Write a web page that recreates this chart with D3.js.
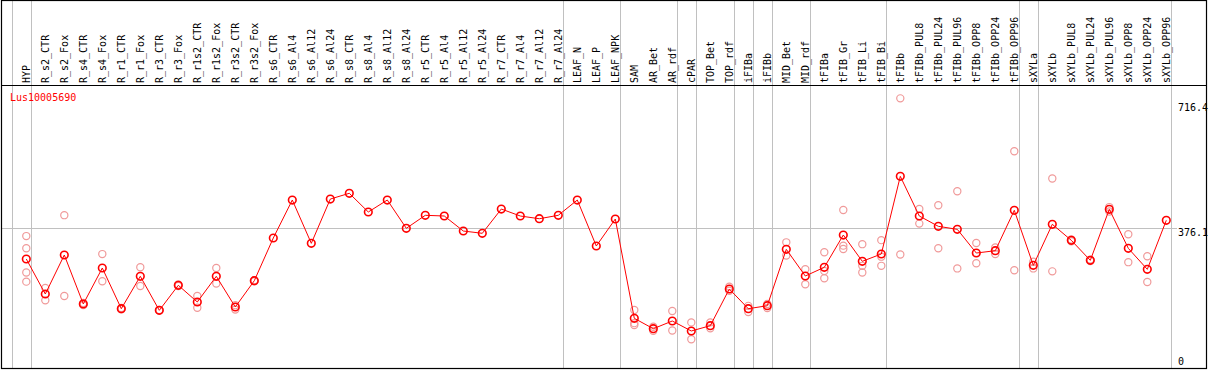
<!DOCTYPE html>
<html><head><meta charset="utf-8">
<script src="https://cdn.jsdelivr.net/npm/d3@7"></script>
<style>
html,body{margin:0;padding:0;background:#fff;}
svg text{font-family:"DejaVu Sans Mono","Liberation Mono",monospace;font-size:10px;}
</style></head>
<body><svg id="c" width="1209" height="370"></svg>
<script>
const categories = ["HYP","R_s2_CTR","R_s2_Fox","R_s4_CTR","R_s4_Fox","R_r1_CTR","R_r1_Fox","R_r3_CTR","R_r3_Fox","R_r1s2_CTR","R_r1s2_Fox","R_r3s2_CTR","R_r3s2_Fox","R_s6_CTR","R_s6_Al4","R_s6_Al12","R_s6_Al24","R_s8_CTR","R_s8_Al4","R_s8_Al12","R_s8_Al24","R_r5_CTR","R_r5_Al4","R_r5_Al12","R_r5_Al24","R_r7_CTR","R_r7_Al4","R_r7_Al12","R_r7_Al24","LEAF_N","LEAF_P","LEAF_NPK","SAM","AR_Bet","AR_rdf","cPAR","TOP_Bet","TOP_rdf","iFIBa","iFIBb","MID_Bet","MID_rdf","tFIBa","tFIB_Gr","tFIB_Li","tFIB_Bi","tFIBb","tFIBb_PUL8","tFIBb_PUL24","tFIBb_PUL96","tFIBb_OPP8","tFIBb_OPP24","tFIBb_OPP96","sXYLa","sXYLb","sXYLb_PUL8","sXYLb_PUL24","sXYLb_PUL96","sXYLb_OPP8","sXYLb_OPP24","sXYLb_OPP96"];

const means = [291.6,196.3,302.5,169.1,267.1,156.3,244.5,151.9,220.0,174.5,244.5,160.9,232.5,348.8,452.2,334.3,454.9,470.5,419.6,452.2,375.2,410.6,408.7,367.8,361.6,427.7,408.7,401.3,410.6,452.2,327.0,400.5,130.1,101.8,122.8,95.6,110.0,209.9,156.3,164.4,318.0,245.3,269.0,356.9,285.3,305.2,516.7,408.7,380.6,372.4,307.9,314.2,424.2,274.4,386.1,342.5,288.0,426.9,320.7,263.5,397.0];

const replicates = [[354,321,255,230],[213,179],[411,191],[172,166],[305,231],[158,155],[269,218],[153,151],[222,218],[191,159],[267,225],[166,154],[234,231],
[],[],[],[],[],[],[],[],[],[],[],[],[],[],[],[],[],[],[],
[153,117,112],[107,96],[150,97],[119,73],[119,103],[216,205],[164,147],[169,158],[337,301],[264,223],[310,259,239],[425,328,319],[332,273,255],[343,298,273],[729,304],[428,388],[438,321],[476,266],[335,280],[323,305],[585,261],[284,266],[511,258],[345,340],[290,286],[433,421],[359,283],[299,229],[]];

const groupEnds = ["HYP","R_r7_Al24","LEAF_NPK","AR_rdf","cPAR","TOP_rdf","iFIBa","iFIBb","MID_rdf","tFIB_Bi","tFIBb_OPP96","sXYLa","sXYLb_OPP96"];
const yTicks = [0, 376.1, 716.4];
const geneLabel = "Lus10005690";

const svg = d3.select("#c");
const x = d3.scalePoint().domain(categories).range([26.3, 1166.3]);
const y = d3.scaleLinear().domain([0, 716.4]).range([366.1, 103]);
const step = x.step();

// vertical group lines
const linesX = [x(categories[0]) - step + 4.4].concat(groupEnds.map(c => x(c) + 4.4));
svg.append("g").selectAll("line").data(linesX).join("line")
  .attr("x1", d => Math.round(d) + 0.5).attr("x2", d => Math.round(d) + 0.5)
  .attr("y1", 0).attr("y2", 369)
  .attr("stroke", "#c0c0c0").attr("stroke-width", 1);

// horizontal reference line
svg.append("line").attr("x1", 1).attr("x2", 1177)
  .attr("y1", Math.round(y(376.1)) + 0.5).attr("y2", Math.round(y(376.1)) + 0.5)
  .attr("stroke", "#c0c0c0").attr("stroke-width", 1);

// header labels
svg.append("g").selectAll("text").data(categories).join("text")
  .attr("transform", d => `translate(${x(d) + 4},83) rotate(-90)`)
  .attr("fill", "#000").text(d => d);

// header separator and frame
svg.append("line").attr("x1", 1).attr("x2", 1207).attr("y1", 85.5).attr("y2", 85.5).attr("stroke", "#000");
svg.append("rect").attr("x", 1.5).attr("y", 0.5).attr("width", 1205).attr("height", 368)
  .attr("fill", "none").attr("stroke", "#000").attr("stroke-width", 1.2);

// y tick labels
svg.append("g").selectAll("text").data(yTicks).join("text")
  .attr("x", 1178)
  .attr("y", d => d === 0 ? y(d) - 1 : y(d) + 8)
  .attr("fill", "#000").text(d => d === 0 ? "0" : d3.format(".1f")(d));

// gene label
svg.append("text").attr("x", 10).attr("y", 101).attr("fill", "#ff0000").text(geneLabel);

// replicate points
const reps = [];
replicates.forEach((arr, i) => arr.forEach(v => reps.push({c: categories[i], v})));
svg.append("g").selectAll("circle").data(reps).join("circle")
  .attr("cx", d => x(d.c)).attr("cy", d => y(d.v)).attr("r", 3.6)
  .attr("fill", "none").attr("stroke", "#f09a9a").attr("stroke-width", 1.2);

// mean line
const line = d3.line().x((d, i) => x(categories[i])).y(d => y(d));
svg.append("path").datum(means).attr("d", line)
  .attr("fill", "none").attr("stroke", "#ff0000").attr("stroke-width", 1);

svg.append("g").selectAll("circle").data(means).join("circle")
  .attr("cx", (d, i) => x(categories[i])).attr("cy", d => y(d)).attr("r", 3.8)
  .attr("fill", "none").attr("stroke", "#ff0000").attr("stroke-width", 1.6);
</script></body></html>
